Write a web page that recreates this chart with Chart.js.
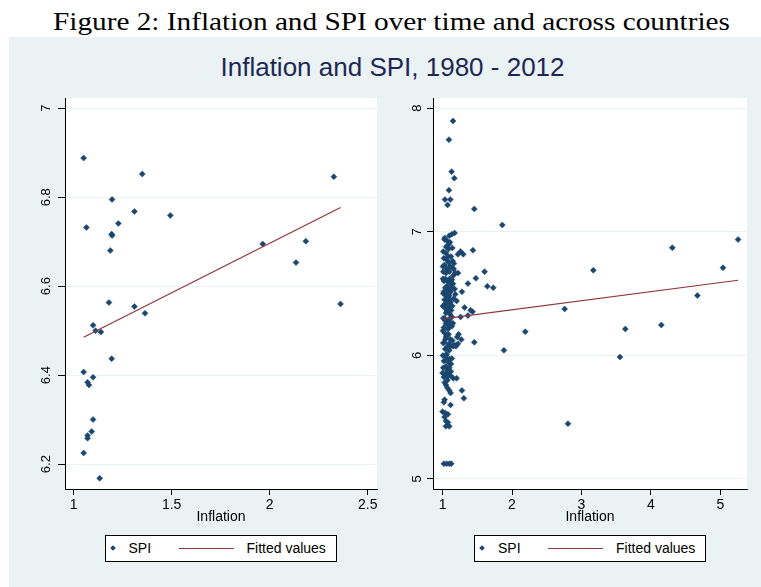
<!DOCTYPE html>
<html><head><meta charset="utf-8">
<script src="https://cdn.jsdelivr.net/npm/chart.js@4.4.1/dist/chart.umd.min.js"></script>
<style>
html,body{margin:0;padding:0;background:#fff;width:761px;height:587px;overflow:hidden;position:relative;}
#cap{position:absolute;left:53px;top:9px;white-space:nowrap;font-family:"Liberation Serif","DejaVu Serif",serif;font-size:25px;line-height:25px;color:#000;transform-origin:0 0;}
#panel{position:absolute;left:9px;top:37px;width:752px;height:550px;background:#eaf2f3;}
#title{position:absolute;left:392.5px;top:54px;transform:translateX(-50%);white-space:nowrap;font-family:"Liberation Sans",Arial,sans-serif;font-size:26px;line-height:26px;color:#1f2756;}
canvas{position:absolute;}
.leg{position:absolute;top:535px;width:230px;height:25px;border:1px solid #000;background:#fff;font-family:"Liberation Sans",Arial,sans-serif;font-size:14px;line-height:25px;color:#000;}
.leg span{position:absolute;white-space:nowrap;}
</style>
</head><body>
<div id="cap">Figure 2: Inflation and SPI over time and across countries</div>
<div id="panel"></div>
<div id="title">Inflation and SPI, 1980 - 2012</div>
<canvas id="c1" width="377" height="440" style="left:8px;top:90px;"></canvas>
<canvas id="c2" width="376" height="440" style="left:385px;top:90px;"></canvas>
<script>
// ---- Left panel data ----
const leftInflation = [1.051,1.350,2.327,1.196,1.310,1.493,1.065,1.228,1.194,1.196,1.187,1.964,2.184,2.134,1.180,1.310,1.364,2.361,1.099,1.112,1.139,1.194,1.051,1.099,1.071,1.078,1.099,1.092,1.071,1.071,1.051,1.133];
const leftSPI = [6.888,6.852,6.846,6.795,6.768,6.759,6.732,6.741,6.717,6.714,6.680,6.695,6.701,6.653,6.563,6.554,6.539,6.560,6.512,6.500,6.497,6.437,6.407,6.395,6.384,6.378,6.300,6.273,6.264,6.258,6.225,6.168];
const leftFitInflation = [1.051, 2.361];
const leftFitSPI = [6.485, 6.777];
const leftXTicks = [1, 1.5, 2, 2.5];
const leftYTicks = [6.2, 6.4, 6.6, 6.8, 7];

// ---- Right panel data ----
const rightInflation = [1.150,1.092,1.130,1.169,1.092,1.035,1.111,1.072,1.457,1.860,
1.173,1.134,1.096,1.029,1.067,1.106,1.086,1.221,1.259,1.298,
1.437,1.048,1.019,1.058,1.086,1.144,1.163,1.029,1.106,1.134,
1.010,1.048,1.096,1.183,1.221,1.154,1.605,1.480,1.019,1.077,
1.134,1.365,1.644,1.730,1.038,1.086,1.134,1.173,1.019,1.067,
1.115,1.279,1.048,1.096,1.183,1.029,1.077,1.202,1.058,1.115,
1.317,1.403,1.432,1.029,1.077,1.125,1.048,1.106,1.365,1.259,
2.758,3.171,1.029,1.086,1.134,1.048,1.115,1.019,1.077,1.134,
1.029,1.086,1.231,1.048,1.211,1.269,1.029,1.096,1.173,1.221,
1.456,1.115,1.154,1.192,2.191,3.632,4.151,1.038,1.096,1.058,
1.134,1.019,1.086,1.048,1.096,1.000,1.038,1.077,1.115,1.067,
1.154,1.202,1.019,1.884,3.555,1.048,1.067,1.096,1.115,1.279,
1.307,1.029,1.019,1.115,1.000,1.038,1.077,1.029,1.048,1.077,
1.048,1.096,2.806,1.019,1.058,1.096,1.125,4.309,5.256,5.039,
4.670,
1.005,1.010,1.005,1.010,1.005,1.010,1.005,1.010,1.005,1.010,
1.060,1.070,1.060,1.065,1.060,1.065,1.060,1.065,1.060,1.065,
1.100,1.110,1.100,1.105,1.100,1.110,1.100,1.120,1.120,1.090,
1.030,1.050,1.140,1.080,1.160,1.040,1.150,1.080,1.160,1.040,
1.140,1.090,1.040,1.150,1.080,1.040,1.140,1.080,1.040,1.120,
1.030,1.070];
const rightSPI = [7.897,7.746,7.487,7.434,7.337,7.261,7.261,7.218,7.185,7.056,
6.991,6.980,6.969,6.937,6.926,6.915,6.861,6.818,6.840,6.818,
6.851,6.829,6.786,6.775,6.753,6.764,6.743,6.732,6.721,6.710,
6.678,6.667,6.678,6.667,6.667,6.646,6.678,6.624,6.602,6.602,
6.613,6.581,6.559,6.548,6.548,6.538,6.548,6.538,6.516,6.516,
6.516,6.516,6.484,6.484,6.495,6.451,6.451,6.441,6.419,6.430,
6.387,6.365,6.354,6.387,6.376,6.365,6.343,6.333,6.322,6.311,
6.376,6.689,6.300,6.289,6.311,6.257,6.268,6.225,6.214,6.236,
6.182,6.171,6.171,6.149,6.149,6.128,6.106,6.095,6.084,6.095,
6.106,6.074,6.074,6.074,6.192,6.214,6.246,6.052,6.041,6.009,
5.976,5.955,5.944,5.912,5.901,5.858,5.847,5.858,5.836,5.825,
5.815,5.815,5.825,6.041,5.987,5.761,5.739,5.717,5.696,5.717,
5.653,5.642,5.620,5.599,5.545,5.534,5.523,5.502,5.469,5.458,
5.426,5.426,5.448,5.124,5.124,5.124,5.124,6.872,6.937,6.710,
6.484,
6.62,6.50,6.40,6.30,6.20,6.10,6.00,5.90,6.72,6.84,
6.70,6.60,6.56,6.46,6.36,6.26,6.16,6.07,5.98,5.88,
6.62,6.58,6.45,6.40,6.24,6.13,5.97,5.87,6.80,6.90,
6.95,6.88,6.87,6.80,6.70,6.62,6.58,6.47,6.46,6.42,
6.40,6.35,6.28,6.26,6.22,6.13,6.12,6.05,6.00,5.93,
5.78,5.80];
const rightFitInflation = [1.0, 5.256];
const rightFitSPI = [6.295, 6.608];
const rightXTicks = [1, 2, 3, 4, 5];
const rightYTicks = [5, 6, 7, 8];

const seriesLabels = ['SPI', 'Fitted values'];
const xTitle = 'Inflation';

const NAVY = '#1a476f', MAROON = '#90353b', GRID = '#eaf2f3';
const SANS = '"Liberation Sans", Arial, sans-serif';

// caption width fit
(function(){
  const cap = document.getElementById('cap');
  const w = cap.getBoundingClientRect().width;
  cap.style.transform = 'scaleX(' + (677 / w) + ')';
})();

const plotBg = {
  id: 'plotBg',
  beforeDraw(chart) {
    const a = chart.chartArea, ctx = chart.ctx;
    ctx.save(); ctx.fillStyle = '#fff';
    ctx.fillRect(a.left, a.top, a.right - a.left, a.bottom - a.top);
    ctx.restore();
  }
};
const yLab = {
  id: 'ylab',
  afterDraw(chart, args, opts) {
    const s = chart.scales.y, ctx = chart.ctx;
    ctx.save();
    ctx.font = opts.size + 'px ' + SANS;
    ctx.fillStyle = '#000';
    ctx.textAlign = 'center';
    ctx.textBaseline = 'alphabetic';
    s.ticks.forEach(t => {
      const y = s.getPixelForValue(t.value);
      ctx.save();
      ctx.translate(chart.chartArea.left - opts.gap, y);
      ctx.rotate(-Math.PI / 2);
      ctx.fillText(String(t.value), 0, 0);
      ctx.restore();
    });
    ctx.restore();
  }
};

function makeChart(id, xs, ys, fx, fy, xTicks, yTicks, r, pad, yTick, gap) {
  return new Chart(document.getElementById(id), {
    type: 'scatter',
    data: {
      datasets: [
        { label: seriesLabels[0], data: xs.map((x, i) => ({x, y: ys[i]})),
          pointStyle: 'rectRot', pointRadius: 3, backgroundColor: NAVY, borderColor: NAVY, borderWidth: 0.5, order: 1 },
        { label: seriesLabels[1], data: fx.map((x, i) => ({x, y: fy[i]})),
          showLine: true, borderColor: MAROON, borderWidth: 1.2, pointRadius: 0, order: 0 }
      ]
    },
    options: {
      responsive: false, animation: false, events: [],
      layout: { padding: pad },
      plugins: { legend: { display: false }, tooltip: { enabled: false }, ylab: { gap, size: 13 } },
      scales: {
        x: {
          type: 'linear', min: r[0], max: r[1],
          afterBuildTicks: s => { s.ticks = xTicks.map(v => ({value: v})); },
          afterFit: s => { s.height = 41; },
          ticks: { font: { family: SANS, size: 14 }, color: '#000', padding: 2, autoSkip: false, maxRotation: 0, callback: v => String(v) },
          grid: { drawOnChartArea: false, drawTicks: true, tickLength: 6, tickColor: '#000', tickWidth: 1 },
          border: { display: true, color: '#000', width: 1 },
          title: { display: true, text: xTitle, font: { family: SANS, size: 14 }, color: '#000', padding: { top: 0, bottom: 4 } }
        },
        y: {
          type: 'linear', min: r[2], max: r[3],
          afterBuildTicks: s => { s.ticks = yTicks.map(v => ({value: v})); },
          afterFit: s => { s.width = 0; },
          ticks: { display: false },
          grid: { color: GRID, lineWidth: 1, drawTicks: true, tickLength: yTick, tickColor: '#000', tickWidth: 1 },
          border: { display: true, color: '#000', width: 1 }
        }
      }
    },
    plugins: [plotBg, yLab]
  });
}

makeChart('c1', leftInflation, leftSPI, leftFitInflation, leftFitSPI, leftXTicks, leftYTicks,
  [0.956, 2.547, 6.144, 7.023], { left: 57, right: 8, top: 8, bottom: 0 }, 7, 15);
makeChart('c2', rightInflation, rightSPI, rightFitInflation, rightFitSPI, rightXTicks, rightYTicks,
  [0.862, 5.385, 4.919, 8.083], { left: 48, right: 14, top: 8, bottom: 0 }, 6, 12);

function makeLegend(center) {
  const box = document.createElement('div');
  box.className = 'leg';
  box.style.left = (center - 116) + 'px';
  const d = document.createElement('span');
  d.style.cssText = 'left:5px;top:10px;width:4px;height:4px;background:' + NAVY + ';transform:rotate(45deg);';
  const t1 = document.createElement('span'); t1.style.left = '23px'; t1.textContent = seriesLabels[0];
  const ln = document.createElement('span');
  ln.style.cssText = 'left:73px;top:12px;width:55px;height:1px;background:' + MAROON + ';';
  const t2 = document.createElement('span'); t2.style.left = '141px'; t2.textContent = seriesLabels[1];
  [d, t1, ln, t2].forEach(e => box.appendChild(e));
  document.body.appendChild(box);
}
makeLegend(220.5);
makeLegend(590);
</script>
</body></html>
